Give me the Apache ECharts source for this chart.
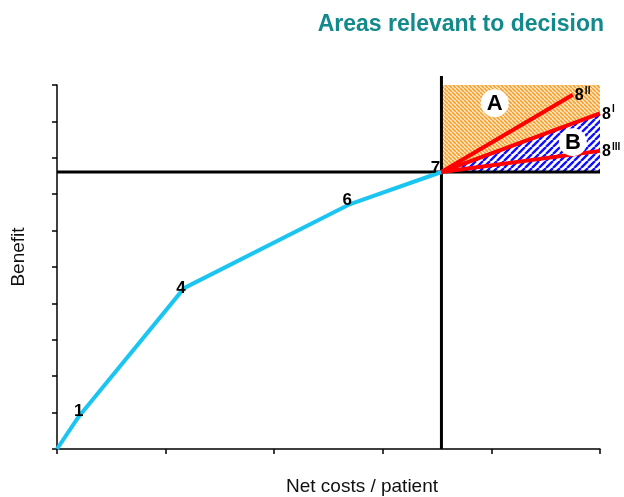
<!DOCTYPE html>
<html>
<head>
<meta charset="utf-8">
<script src="https://cdn.jsdelivr.net/npm/echarts@6/dist/echarts.min.js"></script>
<style>
  html, body { margin: 0; padding: 0; background: #fff; }
  #chart { width: 624px; height: 497px; }
</style>
</head>
<body>
<div id="chart"></div>
<script>
// Cost-benefit path of the compared options
const curveNames = ['', '1', '4', '6', '7'];
const curveX = [0, 0.19, 1.17, 2.7, 3.54];
const curveY = [0, 0.85, 4.42, 6.73, 7.61];

// Reference position of option 7 (thresholds)
const thresholdX = 3.54;
const thresholdY = 7.61;

// Candidate options 8 drawn as rays from option 7
const rayNames = ['8II', '8I', '8III'];
const rayBase = ['8', '8', '8'];
const raySup = ['II', 'I', 'III'];
const rayEndX = [4.75, 5, 5];
const rayEndY = [9.73, 9.22, 8.19];

// Decision areas (polygons in axis units)
const areaNames = ['A', 'B'];
const areaAX = [3.54, 3.54, 5, 5];
const areaAY = [7.61, 10, 10, 9.22];
const areaBX = [3.54, 5, 5];
const areaBY = [7.61, 9.22, 7.61];
const areaLabelX = [4.03, 4.75];
const areaLabelY = [9.5, 8.43];

// Label offsets (px) for curve points
const curveLabelDX = [0, 1, -3, -3, -6];
const curveLabelDY = [0, -7, 0, -4, -4];

function makeHatch(fg, bg, size, width, dir) {
  const c = document.createElement('canvas');
  c.width = size; c.height = size;
  const ctx = c.getContext('2d');
  ctx.fillStyle = bg;
  ctx.fillRect(0, 0, size, size);
  ctx.strokeStyle = fg;
  ctx.lineWidth = width;
  ctx.beginPath();
  for (const k of [-1, 0, 1]) {
    if (dir === '/') {
      ctx.moveTo(k * size, size);
      ctx.lineTo(k * size + size, 0);
    } else {
      ctx.moveTo(k * size, 0);
      ctx.lineTo(k * size + size, size);
    }
  }
  ctx.stroke();
  return c;
}

const hatchFills = [
  { image: makeHatch('#f8a232', '#fff0d8', 4, 1.8, '\\'), repeat: 'repeat' },
  { image: makeHatch('#1010ff', '#ffffff', 7, 2.4, '/'), repeat: 'repeat' }
];
const areaPolys = [
  areaAX.map((x, i) => [x, areaAY[i]]),
  areaBX.map((x, i) => [x, areaBY[i]])
];

const FONT = '"Liberation Sans", Arial, sans-serif';

const chart = echarts.init(document.getElementById('chart'), null, { renderer: 'canvas' });

const raySeries = rayNames.map((name, i) => ({
  type: 'line',
  name: name,
  data: [[thresholdX, thresholdY], [rayEndX[i], rayEndY[i]]],
  symbol: 'none',
  clip: false,
  z: 5,
  lineStyle: { color: '#ff0000', width: 4 },
  emphasis: { disabled: true }
}));

chart.setOption({
  animation: false,
  title: {
    text: 'Areas relevant to decision',
    right: 20,
    top: 13,
    padding: 0,
    textStyle: { fontSize: 23, fontWeight: 'bold', color: '#12898a', fontFamily: FONT }
  },
  grid: { left: 57, top: 85, width: 543, height: 364 },
  xAxis: {
    type: 'value', min: 0, max: 5, interval: 1,
    axisLine: { show: true, lineStyle: { color: '#000', width: 1.5 } },
    axisTick: { show: true, length: 5, lineStyle: { color: '#000', width: 1.5 } },
    axisLabel: { show: false },
    splitLine: { show: false }
  },
  yAxis: {
    type: 'value', min: 0, max: 10, interval: 1,
    axisLine: { show: true, lineStyle: { color: '#000', width: 1.5 } },
    axisTick: { show: true, length: 5, lineStyle: { color: '#000', width: 1.5 } },
    axisLabel: { show: false },
    splitLine: { show: false }
  },
  graphic: [
    {
      type: 'text', x: 19, y: 257, rotation: Math.PI / 2,
      style: { text: 'Benefit', fontSize: 19, fontFamily: FONT, fill: '#111', align: 'center', verticalAlign: 'middle' }
    },
    {
      type: 'text', x: 362, y: 487,
      style: { text: 'Net costs / patient', fontSize: 19, fontFamily: FONT, fill: '#111', align: 'center', verticalAlign: 'middle' }
    }
  ],
  series: [
    {
      type: 'custom',
      name: 'areas',
      z: 1,
      clip: false,
      silent: true,
      data: areaNames.map((n, i) => ({ name: n, value: areaPolys[i][0] })),
      renderItem: (params, api) => {
        const pts = areaPolys[params.dataIndex].map(p => api.coord(p));
        return {
          type: 'polygon',
          shape: { points: pts },
          style: { fill: hatchFills[params.dataIndex], stroke: null }
        };
      }
    },
    {
      type: 'line', name: 'vertical threshold',
      data: [[thresholdX, 0], [thresholdX, 10.25]],
      symbol: 'none', clip: false, z: 3,
      lineStyle: { color: '#000', width: 3 }
    },
    {
      type: 'line', name: 'horizontal threshold',
      data: [[0, thresholdY], [5, thresholdY]],
      symbol: 'none', clip: false, z: 3,
      lineStyle: { color: '#000', width: 3 }
    },
    {
      type: 'line', name: 'path',
      data: curveX.map((x, i) => [x, curveY[i]]),
      symbol: 'none', clip: false, z: 4,
      lineStyle: { color: '#1bc5f1', width: 4 }
    },
    ...raySeries,
    {
      type: 'custom', name: 'path labels', z: 6, clip: false, silent: true,
      data: curveX.map((x, i) => [x, curveY[i]]),
      renderItem: (params, api) => {
        const i = params.dataIndex;
        const p = api.coord([api.value(0), api.value(1)]);
        return {
          type: 'text',
          x: p[0] + curveLabelDX[i], y: p[1] + curveLabelDY[i],
          style: {
            text: curveNames[i], fill: '#000', fontSize: 17, fontWeight: 'bold',
            fontFamily: FONT, align: 'center', verticalAlign: 'middle'
          }
        };
      }
    },
    {
      type: 'custom', name: 'ray labels', z: 6, clip: false, silent: true,
      data: rayEndX.map((x, i) => [x, rayEndY[i]]),
      renderItem: (params, api) => {
        const i = params.dataIndex;
        const p = api.coord([api.value(0), api.value(1)]);
        return {
          type: 'group',
          children: [
            {
              type: 'text', x: p[0] + 2, y: p[1] + 1,
              style: { text: rayBase[i], fill: '#000', fontSize: 16, fontWeight: 'bold', fontFamily: FONT, align: 'left', verticalAlign: 'middle' }
            },
            {
              type: 'text', x: p[0] + 12, y: p[1] - 4,
              style: { text: raySup[i], fill: '#000', fontSize: 10, fontWeight: 'bold', fontFamily: FONT, align: 'left', verticalAlign: 'middle' }
            }
          ]
        };
      }
    },
    {
      type: 'custom', name: 'area labels', z: 7, clip: false, silent: true,
      data: areaLabelX.map((x, i) => [x, areaLabelY[i]]),
      renderItem: (params, api) => {
        const i = params.dataIndex;
        const p = api.coord([api.value(0), api.value(1)]);
        return {
          type: 'group',
          children: [
            { type: 'circle', shape: { cx: p[0], cy: p[1], r: 14 }, style: { fill: '#fff' } },
            {
              type: 'text', x: p[0], y: p[1] + 1,
              style: { text: areaNames[i], fill: '#000', fontSize: 22, fontWeight: 'bold', fontFamily: FONT, align: 'center', verticalAlign: 'middle' }
            }
          ]
        };
      }
    }
  ]
});
</script>
</body>
</html>
